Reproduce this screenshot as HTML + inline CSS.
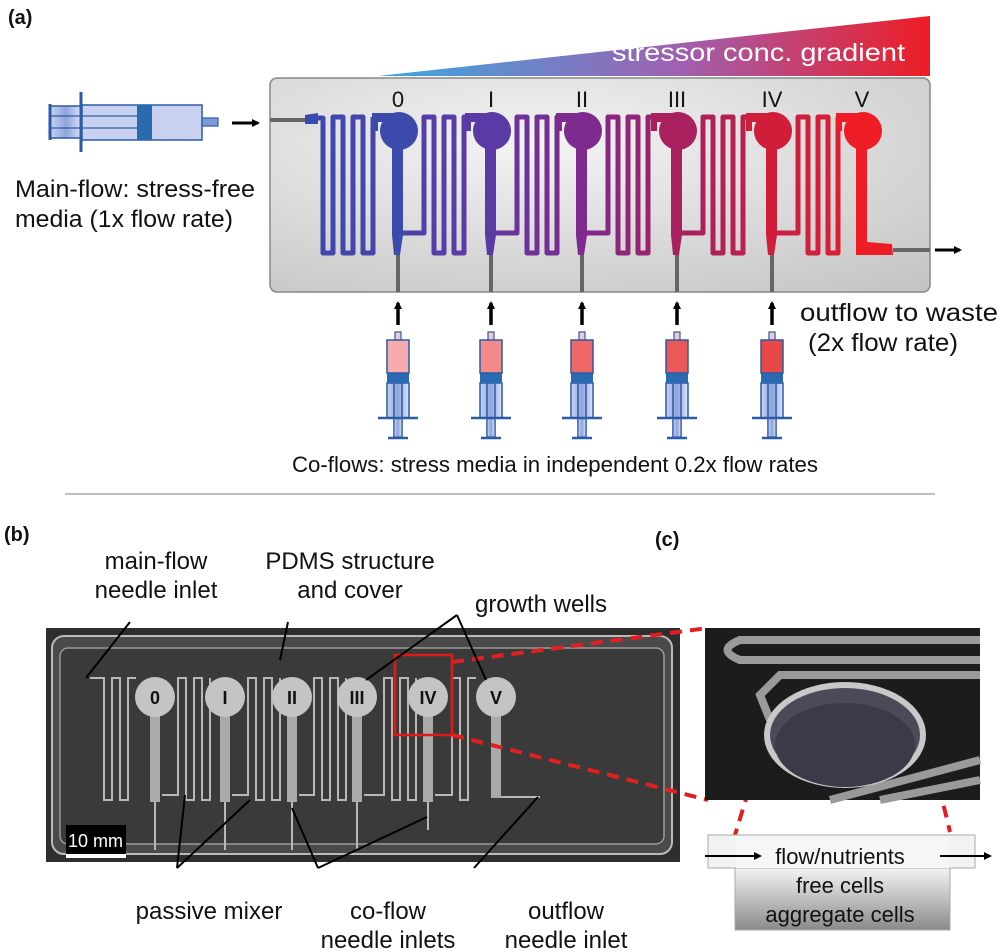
<!DOCTYPE html>
<html><head><meta charset="utf-8"><style>
body{margin:0;background:#fff}
svg{display:block}
text{font-family:"Liberation Sans",sans-serif;fill:#111}
</style></head><body>
<svg width="1000" height="952" viewBox="0 0 1000 952" xmlns="http://www.w3.org/2000/svg">
<defs>
<linearGradient id="tri" x1="0" x2="1" y1="0" y2="0"><stop offset="0" stop-color="#3aa8e0"/><stop offset="0.55" stop-color="#a060b0"/><stop offset="1" stop-color="#ee1c25"/></linearGradient>
<radialGradient id="chip" cx="0.4" cy="0.3" r="0.9"><stop offset="0" stop-color="#f4f4f4"/><stop offset="1" stop-color="#c4c4c4"/></radialGradient>
<linearGradient id="ch" gradientUnits="userSpaceOnUse" x1="305" x2="895" y1="0" y2="0"><stop offset="0" stop-color="#3a4ab0"/><stop offset="0.25" stop-color="#5a3ca8"/><stop offset="0.45" stop-color="#7a2a90"/><stop offset="0.65" stop-color="#a82060"/><stop offset="0.85" stop-color="#d01f3a"/><stop offset="1" stop-color="#ee1c25"/></linearGradient>
<linearGradient id="plg" x1="0" x2="1"><stop offset="0" stop-color="#c8d4f0"/><stop offset="0.5" stop-color="#8fa4dc"/><stop offset="1" stop-color="#dde4f6"/></linearGradient>
<linearGradient id="boxg" x1="0" x2="0" y1="0" y2="1"><stop offset="0" stop-color="#f4f4f4"/><stop offset="1" stop-color="#8a8a8a"/></linearGradient>
<marker id="ar" markerWidth="8" markerHeight="8" refX="6" refY="4" orient="auto" markerUnits="userSpaceOnUse"><path d="M0,0 L8,4 L0,8z" fill="#000"/></marker>
<g id="w">
<rect x="-26" y="113" width="28" height="9"/>
<rect x="-26" y="113" width="6" height="18"/>
<circle cx="1" cy="131" r="19"/>
<path d="M-6,140 L5,140 L5,235 L2,255 L-4,255 L-6,235z"/>
</g>
<g id="sy">
<line x1="0" y1="325" x2="0" y2="303" stroke="#000" stroke-width="3.5" marker-end="url(#ar)"/>
<rect x="-3" y="332" width="6" height="9" fill="#f4c8d0" stroke="#2a5aa8" stroke-width="1.2"/>
<rect x="-11" y="383" width="22" height="35" fill="url(#plg)" stroke="#2a5aa8" stroke-width="1.5"/>
<line x1="-4" y1="383" x2="-4" y2="437" stroke="#2a5aa8" stroke-width="1.5"/>
<line x1="4" y1="383" x2="4" y2="437" stroke="#2a5aa8" stroke-width="1.5"/>
<rect x="-4" y="418" width="8" height="19" fill="url(#plg)" stroke="#2a5aa8" stroke-width="1.2"/>
<line x1="-20" y1="418" x2="20" y2="418" stroke="#2a5aa8" stroke-width="2.5"/>
<line x1="-10" y1="438" x2="10" y2="438" stroke="#2a5aa8" stroke-width="2.5"/>
<rect x="-11" y="373" width="22" height="10" fill="#2a6ab0"/>
</g>
</defs>

<text x="8" y="24" font-size="20" font-weight="bold">(a)</text>
<polygon points="378,76 930,16 930,76" fill="url(#tri)"/>
<text x="612" y="61" font-size="25" style="fill:#fff" textLength="293" lengthAdjust="spacingAndGlyphs">stressor conc. gradient</text>

<rect x="270" y="78" width="660" height="214" rx="7" fill="url(#chip)" stroke="#888" stroke-width="1.5"/>
<g font-size="22" text-anchor="middle">
<text x="398" y="107">0</text><text x="491" y="107">I</text><text x="582" y="107">II</text><text x="677" y="107">III</text><text x="772" y="107">IV</text><text x="862" y="107">V</text>
</g>
<line x1="270" y1="120" x2="308" y2="120" stroke="#666" stroke-width="4"/>
<line x1="930" y1="250" x2="893" y2="250" stroke="#666" stroke-width="4"/>
<line x1="935" y1="250" x2="960" y2="250" stroke="#000" stroke-width="3" marker-end="url(#ar)"/>
<line x1="232" y1="123" x2="258" y2="123" stroke="#000" stroke-width="3" marker-end="url(#ar)"/>
<g fill="none" stroke="url(#ch)" stroke-width="5" stroke-linejoin="round">
<path d="M305,118 L323,118 L323,253 L333,253 L333,117 L343,117 L343,253 L353,253 L353,117 L363,117 L363,253 L373,253 L373,117"/>
<path d="M400,233 L424,233 L424,117 L434,117 L434,253 L444,253 L444,117 L454,117 L454,253 L464,253 L464,117 L468,117"/>
<path d="M493,233 L517,233 L517,117 L527,117 L527,253 L537,253 L537,117 L547,117 L547,253 L557,253 L557,117 L560,117"/>
<path d="M584,233 L608,233 L608,117 L618,117 L618,253 L628,253 L628,117 L638,117 L638,253 L648,253 L648,117 L654,117"/>
<path d="M679,233 L703,233 L703,117 L713,117 L713,253 L723,253 L723,117 L733,117 L733,253 L743,253 L743,117 L749,117"/>
<path d="M774,233 L798,233 L798,117 L808,117 L808,253 L818,253 L818,117 L828,117 L828,253 L838,253 L838,117"/>
</g>
<path d="M305,115 L318,113 L318,124 L305,124z" fill="#3a4ab0"/>
<use href="#w" x="398" fill="#3c4aac"/>
<use href="#w" x="491" fill="#5a3aa4"/>
<use href="#w" x="582" fill="#7e2a8e"/>
<use href="#w" x="677" fill="#a8205e"/>
<use href="#w" x="772" fill="#d01e3a"/>
<g fill="#ee1c25" transform="translate(862,0)">
<rect x="-26" y="113" width="28" height="9"/>
<rect x="-26" y="113" width="6" height="18"/>
<circle cx="1" cy="131" r="19"/>
<path d="M-6,140 L5,140 L5,242 L30,244 L31,255 L-6,255z"/>
</g>
<g stroke="#666" stroke-width="4">
<line x1="398" y1="255" x2="398" y2="292"/><line x1="491" y1="255" x2="491" y2="292"/><line x1="582" y1="255" x2="582" y2="292"/><line x1="677" y1="255" x2="677" y2="292"/><line x1="772" y1="255" x2="772" y2="292"/>
</g>
<use href="#sy" x="398"/><rect x="387" y="340" width="22" height="33" fill="#f6acac" stroke="#2a5aa8" stroke-width="1.5"/>
<use href="#sy" x="491"/><rect x="480" y="340" width="22" height="33" fill="#f28a8a" stroke="#2a5aa8" stroke-width="1.5"/>
<use href="#sy" x="582"/><rect x="571" y="340" width="22" height="33" fill="#ee6666" stroke="#2a5aa8" stroke-width="1.5"/>
<use href="#sy" x="677"/><rect x="666" y="340" width="22" height="33" fill="#ec5858" stroke="#2a5aa8" stroke-width="1.5"/>
<use href="#sy" x="772"/><rect x="761" y="340" width="22" height="33" fill="#e84848" stroke="#2a5aa8" stroke-width="1.5"/>

<rect x="50" y="106" width="32" height="32" fill="url(#plg)" stroke="#2a5aa8" stroke-width="1.5"/>
<rect x="82" y="105" width="120" height="35" fill="#c8d2f0" stroke="#2a5aa8" stroke-width="1.5"/>
<rect x="50" y="116" width="90" height="12" fill="none" stroke="#2a5aa8" stroke-width="1.2"/>
<rect x="137" y="105" width="15" height="35" fill="#2a6ab0"/>
<rect x="202" y="118" width="16" height="8" fill="#7b9ad8" stroke="#2a5aa8" stroke-width="1.2"/>
<line x1="50" y1="104" x2="50" y2="140" stroke="#2a5aa8" stroke-width="3"/>
<line x1="81" y1="92" x2="81" y2="152" stroke="#2a5aa8" stroke-width="3"/>

<text x="15" y="197" font-size="24" textLength="240" lengthAdjust="spacingAndGlyphs">Main-flow: stress-free</text>
<text x="15" y="227" font-size="24" textLength="218" lengthAdjust="spacingAndGlyphs">media (1x flow rate)</text>
<text x="800" y="321" font-size="25" textLength="198" lengthAdjust="spacingAndGlyphs">outflow to waste</text>
<text x="808" y="351" font-size="25" textLength="150" lengthAdjust="spacingAndGlyphs">(2x flow rate)</text>
<text x="292" y="472" font-size="22" textLength="526" lengthAdjust="spacingAndGlyphs">Co-flows: stress media in independent 0.2x flow rates</text>
<line x1="65" y1="494" x2="935" y2="494" stroke="#aaa" stroke-width="1.5"/>

<text x="4" y="541" font-size="20" font-weight="bold">(b)</text>
<text x="655" y="546" font-size="20" font-weight="bold">(c)</text>
<g font-size="24" text-anchor="middle">
<text x="156" y="569">main-flow</text><text x="156" y="598">needle inlet</text>
<text x="350" y="569">PDMS structure</text><text x="350" y="598">and cover</text>
<text x="541" y="612">growth wells</text>
<text x="209" y="919">passive mixer</text>
<text x="388" y="919">co-flow</text><text x="388" y="948">needle inlets</text>
<text x="566" y="919">outflow</text><text x="566" y="948">needle inlet</text>
</g>
<rect x="46" y="628" width="634" height="234" fill="#2e2e2e"/>
<rect x="52" y="636" width="620" height="218" rx="12" fill="#4a4a4a" stroke="#bbb" stroke-width="2"/>
<rect x="60" y="648" width="604" height="196" rx="8" fill="#3a3a3a" stroke="#999" stroke-width="1.5"/>
<g fill="none" stroke="#b8b8b8" stroke-width="2">
<path d="M90,678 L104,678 L104,800 L112,800 L112,678 L120,678 L120,800 L128,800 L128,678 L136,678"/>
<path d="M162,795 L178,795 L178,678 L186,678 L186,800 L194,800 L194,678 L202,678 L202,800 L210,800 L210,678"/>
<path d="M232,795 L248,795 L248,678 L256,678 L256,800 L264,800 L264,678 L272,678 L272,800 L280,800 L280,678"/>
<path d="M299,795 L314,795 L314,678 L322,678 L322,800 L330,800 L330,678 L338,678 L338,800 L346,800 L346,678"/>
<path d="M364,795 L384,795 L384,678 L392,678 L392,800 L400,800 L400,678 L408,678 L408,800 L416,800 L416,678"/>
<path d="M435,795 L452,795 L452,678 L460,678 L460,800 L468,800 L468,678 L476,678"/>
<path d="M155,800 L155,850 M225,800 L225,850 M292,800 L292,850 M357,800 L357,850 M428,800 L428,830 M496,797 L540,797"/>
</g>
<g fill="#aaa">
<rect x="150" y="712" width="10" height="90"/><rect x="220" y="712" width="10" height="90"/><rect x="287" y="712" width="10" height="90"/><rect x="352" y="712" width="10" height="90"/><rect x="423" y="712" width="10" height="90"/><rect x="491" y="712" width="10" height="86"/>
</g>
<g fill="#c4c4c4">
<circle cx="155" cy="697" r="20"/><circle cx="225" cy="697" r="20"/><circle cx="292" cy="697" r="20"/><circle cx="357" cy="697" r="20"/><circle cx="428" cy="697" r="20"/><circle cx="496" cy="697" r="20"/>
</g>
<g font-size="18" font-weight="bold" text-anchor="middle">
<text x="155" y="704">0</text><text x="225" y="704">I</text><text x="292" y="704">II</text><text x="357" y="704">III</text><text x="428" y="704">IV</text><text x="496" y="704">V</text>
</g>
<rect x="66" y="825" width="60" height="29" fill="#000"/>
<text x="68" y="847" font-size="18" style="fill:#fff">10 mm</text>
<rect x="66" y="854" width="60" height="4" fill="#fff"/>
<rect x="395" y="655" width="57" height="80" fill="none" stroke="#e01818" stroke-width="2.5"/>
<g stroke="#e02020" stroke-width="4" stroke-dasharray="12,8" fill="none">
<line x1="452" y1="662" x2="708" y2="628"/>
<line x1="452" y1="735" x2="708" y2="800"/>
<line x1="766" y1="733" x2="735" y2="835"/>
<line x1="925" y1="728" x2="950" y2="832"/>
</g>
<g stroke="#000" stroke-width="2" fill="none">
<line x1="130" y1="622" x2="86" y2="678"/>
<line x1="288" y1="622" x2="280" y2="660"/>
<line x1="457" y1="615" x2="366" y2="680"/><line x1="457" y1="615" x2="486" y2="680"/>
<line x1="177" y1="868" x2="185" y2="795"/><line x1="177" y1="868" x2="250" y2="800"/>
<line x1="318" y1="868" x2="292" y2="808"/><line x1="318" y1="868" x2="427" y2="817"/>
<line x1="474" y1="868" x2="538" y2="797"/>
</g>
<rect x="705" y="628" width="275" height="172" fill="#1c1c1c"/>
<g stroke="#9a9a9a" stroke-width="8" fill="none">
<path d="M980,640 L740,640 Q715,650 740,660 L980,660"/>
<path d="M980,675 L780,675 L760,695 L770,720"/>
<path d="M980,760 L830,800 M980,780 L880,800"/>
</g>
<ellipse cx="845" cy="735" rx="78" ry="50" fill="#4a4a58" stroke="#c8c8c8" stroke-width="6"/>
<ellipse cx="845" cy="745" rx="70" ry="42" fill="#3a3a48"/>
<rect x="708" y="835" width="267" height="33" fill="#f2f2f2" stroke="#aaa" stroke-width="1"/>
<rect x="735" y="868" width="215" height="62" fill="url(#boxg)" stroke="#aaa" stroke-width="1"/>
<rect x="736" y="836" width="213" height="32" fill="#f6f6f6"/>
<line x1="705" y1="856" x2="760" y2="856" stroke="#000" stroke-width="2" marker-end="url(#ar)"/>
<line x1="940" y1="856" x2="990" y2="856" stroke="#000" stroke-width="2" marker-end="url(#ar)"/>
<g font-size="22" text-anchor="middle">
<text x="840" y="864">flow/nutrients</text>
<text x="840" y="893">free cells</text>
<text x="840" y="922">aggregate cells</text>
</g>
</svg>
</body></html>
